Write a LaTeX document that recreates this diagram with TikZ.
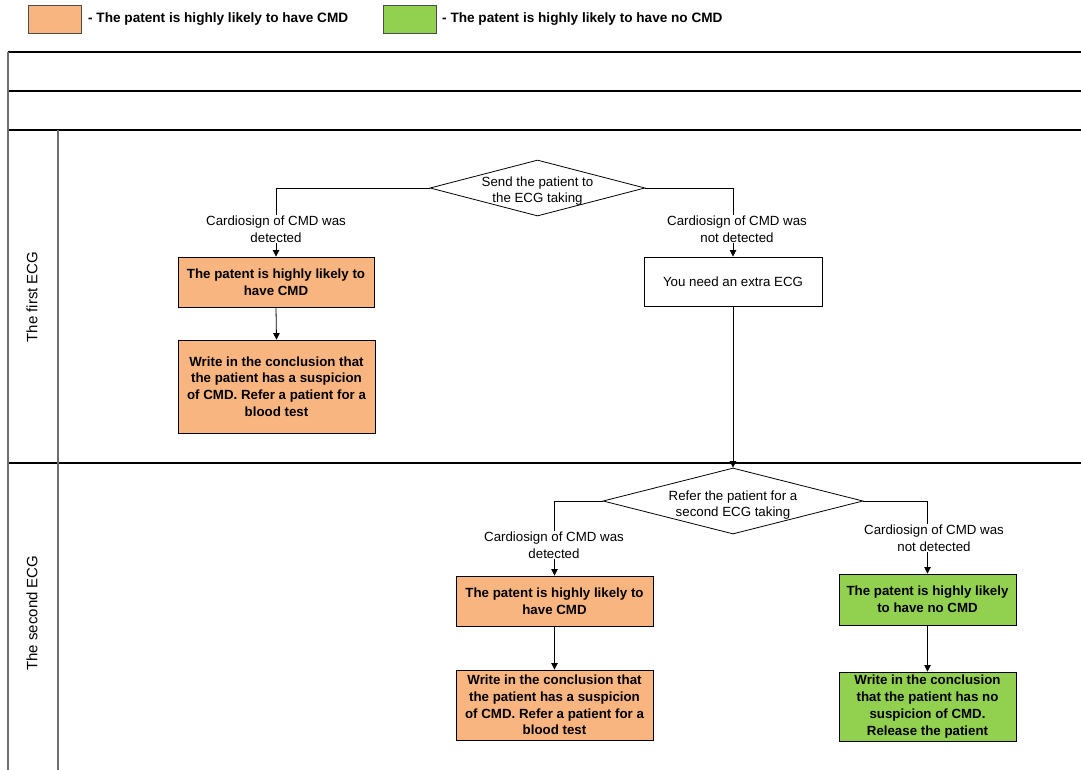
\documentclass[tikz,border=0pt]{standalone}
\usepackage{fontspec}
\setmainfont{Liberation Sans}
\usetikzlibrary{arrows.meta,shapes.geometric}
\definecolor{orng}{HTML}{F9B57F}
\definecolor{grn}{HTML}{92D050}
\definecolor{lanegray}{HTML}{6E6E6E}
\begin{document}
\begin{tikzpicture}[x=1pt,y=-1pt,
  font=\fontsize{13.3}{16.7}\selectfont,
  box/.style={draw=black, line width=0.9pt, align=center, inner sep=0pt, font=\fontsize{13.3}{16.7}\selectfont\bfseries},
  obox/.style={box, fill=orng},
  gbox/.style={box, fill=grn},
  wbox/.style={draw=black, line width=0.9pt, fill=white, align=center, inner sep=0pt},
  dia/.style={diamond, draw=black, line width=0.8pt, fill=white, inner sep=0pt},
  lbl/.style={fill=white, align=center, inner sep=1pt},
  conn/.style={draw=black, line width=0.8pt},
  arr/.style={conn, -{Triangle[length=6.5pt,width=6.5pt]}},
  tline/.style={draw=black, line width=1.1pt},
  vline/.style={draw=lanegray, line width=1.1pt},
  lanelbl/.style={rotate=90, font=\fontsize{15}{18}\selectfont}
]
\useasboundingbox (0,0) rectangle (1081,769);
\fill[white] (0,0) rectangle (1081,769);

% legend
\node[draw=black!70, line width=0.9pt, fill=orng, minimum width=53pt, minimum height=28pt, inner sep=0pt] (legO) at (54.5,19) {};
\node[anchor=west, inner sep=0pt, font=\fontsize{13.6}{16}\selectfont\bfseries] (legOt) at (88,19) {- The patent is highly likely to have CMD};
\node[draw=black!70, line width=0.9pt, fill=grn, minimum width=53pt, minimum height=28pt, inner sep=0pt] (legG) at (409.5,19) {};
\node[anchor=west, inner sep=0pt, font=\fontsize{13.6}{16}\selectfont\bfseries] (legGt) at (442,19) {- The patent is highly likely to have no CMD};

% swimlane table
\draw[tline] (8,52) -- (1090,52);
\draw[tline] (8,91) -- (1090,91);
\draw[tline] (8,130) -- (1090,130);
\draw[tline] (8,463) -- (1090,463);
\draw[vline] (8,52) -- (8,780);
\draw[vline] (58,130) -- (58,780);
\node[lanelbl] (lane1) at (32,297) {The first ECG};
\node[lanelbl] (lane2) at (32,613) {The second ECG};

% first ECG lane
\node[dia, minimum width=215pt, minimum height=56pt] (d1) at (537.5,188) {};
\node[align=center, inner sep=0pt, yshift=-3pt] (d1t) at (d1.center) {Send the patient to\\the ECG taking};
\node[obox, minimum width=196pt, minimum height=50pt] (a1) at (276,282) {The patent is highly likely to\\have CMD};
\node[obox, minimum width=197pt, minimum height=93pt] (a2) at (276.5,386.5) {Write in the conclusion that\\the patient has a suspicion\\of CMD. Refer a patient for a\\blood test};
\node[wbox, minimum width=178pt, minimum height=49pt] (b1) at (733,281.5) {You need an extra ECG};

\draw[arr] (d1.west) -| (a1.north);
\draw[arr] (d1.east) -| (b1.north);
\draw[arr] (a1.south) -- (a2.north);
\node[lbl] (l1) at (276,229) {Cardiosign of CMD was\\detected};
\node[lbl] (l2) at (737,229) {Cardiosign of CMD was\\not detected};

% second ECG lane
\node[dia, minimum width=260pt, minimum height=66pt] (d2) at (733,501) {};
\node[align=center, inner sep=0pt, yshift=-4pt] (d2t) at (d2.center) {Refer the patient for a\\second ECG taking};
\draw[arr] (b1.south) -- (d2.north);

\node[obox, minimum width=197pt, minimum height=50pt] (c1) at (554.5,601) {The patent is highly likely to\\have CMD};
\node[obox, minimum width=197pt, minimum height=70pt] (c2) at (554.5,705) {Write in the conclusion that\\the patient has a suspicion\\of CMD. Refer a patient for a\\blood test};
\node[gbox, minimum width=177pt, minimum height=51pt] (e1) at (927.5,599.5) {The patent is highly likely\\to have no CMD};
\node[gbox, minimum width=177pt, minimum height=69pt] (e2) at (927.5,706.5) {Write in the conclusion\\that the patient has no\\suspicion of CMD.\\Release the patient};

\draw[arr] (d2.west) -| (c1.north);
\draw[arr] (d2.east) -| (e1.north);
\draw[arr] (c1.south) -- (c2.north);
\draw[arr] (e1.south) -- (e2.north);
\node[lbl] (l3) at (554,545) {Cardiosign of CMD was\\detected};
\node[lbl] (l4) at (934,538) {Cardiosign of CMD was\\not detected};
\end{tikzpicture}
\end{document}
